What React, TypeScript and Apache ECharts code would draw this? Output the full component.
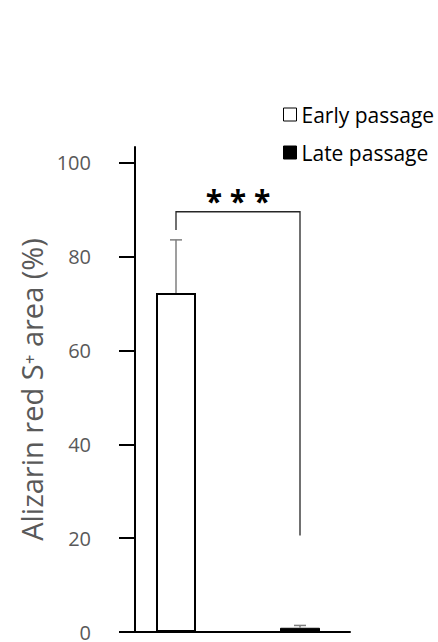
import React, { useEffect, useRef } from "react";
import * as echarts from "echarts";

// ---- data ----
const categories = [""];
const seriesNames = ["Early passage", "Late passage"];
const meanValues = [72.3, 0.9];
const errorTops = [83.6, 1.4];
const yTickValues = [0, 20, 40, 60, 80, 100];
const yAxisMax = 103.4;
const yAxisTitle = "Alizarin red S\u207A area (%)";
// significance bracket: [top level, left leg end, right leg end]
const bracketLevels = [89.6, 85.7, 20.6];
const significanceLabel = "* * *";

const FONT = "'Open Sans', 'DejaVu Sans', sans-serif";

export default function App() {
  const ref = useRef<HTMLDivElement>(null);

  useEffect(() => {
    if (!ref.current) return;
    const chart = echarts.init(ref.current, undefined, { renderer: "svg" });

    const option: any = {
      animation: false,
      backgroundColor: "#ffffff",
      grid: { left: 126, right: 88, top: 147, bottom: 9, containLabel: false },
      legend: {
        orient: "vertical",
        left: 283,
        top: 104,
        padding: 0,
        itemWidth: 13,
        itemHeight: 13,
        itemGap: 17,
        icon: "rect",
        data: seriesNames,
        textStyle: { fontFamily: FONT, fontSize: 21, color: "#000" },
        itemStyle: { borderWidth: 1 },
      },
      xAxis: {
        type: "category",
        data: categories,
        axisLine: { show: true, lineStyle: { color: "#000", width: 2 } },
        axisTick: { show: false },
        axisLabel: { show: false },
        splitLine: { show: false },
      },
      yAxis: {
        type: "value",
        min: 0,
        max: yAxisMax,
        offset: -9,
        name: yAxisTitle,
        nameLocation: "middle",
        nameGap: 88,
        nameTextStyle: { fontFamily: FONT, fontSize: 29, color: "#595959" },
        axisLine: { show: true, lineStyle: { color: "#000", width: 2 } },
        axisTick: {
          show: true,
          inside: false,
          length: 16,
          customValues: yTickValues,
          lineStyle: { color: "#000", width: 2 },
        },
        axisLabel: {
          customValues: yTickValues,
          margin: 44,
          fontFamily: FONT,
          fontSize: 20,
          lineHeight: 16,
          color: "#595959",
        },
        splitLine: { show: false },
      },
      series: [
        {
          name: seriesNames[0],
          type: "bar",
          data: [meanValues[0]],
          barWidth: 40,
          barGap: "210%",
          itemStyle: { color: "#ffffff", borderColor: "#000", borderWidth: 2 },
        },
        {
          name: seriesNames[1],
          type: "bar",
          data: [meanValues[1]],
          barWidth: 40,
          barGap: "210%",
          itemStyle: { color: "#000000", borderColor: "#000", borderWidth: 1 },
        },
      ],
    };
    chart.setOption(option);

    // positions of bars from the library's own layout
    const model: any = (chart as any).getModel();
    const centers: number[] = [0, 1].map((i) => {
      try {
        const lay = model.getSeriesByIndex(i).getData().getItemLayout(0);
        return lay.x + lay.width / 2;
      } catch (e) {
        const c = chart.convertToPixel({ xAxisIndex: 0 }, 0) as number;
        return c + (i === 0 ? -62 : 62);
      }
    });
    const py = (v: number) => chart.convertToPixel({ yAxisIndex: 0 }, v) as number;

    const elements: any[] = [];
    meanValues.forEach((m, i) => {
      const cx = centers[i];
      elements.push({
        type: "line",
        shape: { x1: cx, y1: py(m), x2: cx, y2: py(errorTops[i]) },
        style: { stroke: "#7f7f7f", lineWidth: 1.5 },
        z: 10,
      });
      elements.push({
        type: "line",
        shape: { x1: cx - 6, y1: py(errorTops[i]), x2: cx + 6, y2: py(errorTops[i]) },
        style: { stroke: "#7f7f7f", lineWidth: 1.5 },
        z: 10,
      });
    });
    const [topLvl, leftEnd, rightEnd] = bracketLevels;
    elements.push({
      type: "polyline",
      shape: {
        points: [
          [centers[0], py(leftEnd)],
          [centers[0], py(topLvl)],
          [centers[1], py(topLvl)],
          [centers[1], py(rightEnd)],
        ],
      },
      style: { stroke: "#262626", lineWidth: 1.3, fill: null },
      z: 10,
    });
    elements.push({
      type: "text",
      x: (centers[0] + centers[1]) / 2,
      y: py(topLvl) + 4,
      style: {
        text: significanceLabel,
        fontFamily: FONT,
        fontWeight: "bold",
        fontSize: 30,
        fill: "#000",
        align: "center",
        verticalAlign: "bottom",
      },
      z: 10,
    });
    chart.setOption({ graphic: { elements } });

    return () => chart.dispose();
  }, []);

  return (
    <div
      ref={ref}
      style={{ position: "fixed", left: 0, top: 0, width: 438, height: 642 }}
    />
  );
}
